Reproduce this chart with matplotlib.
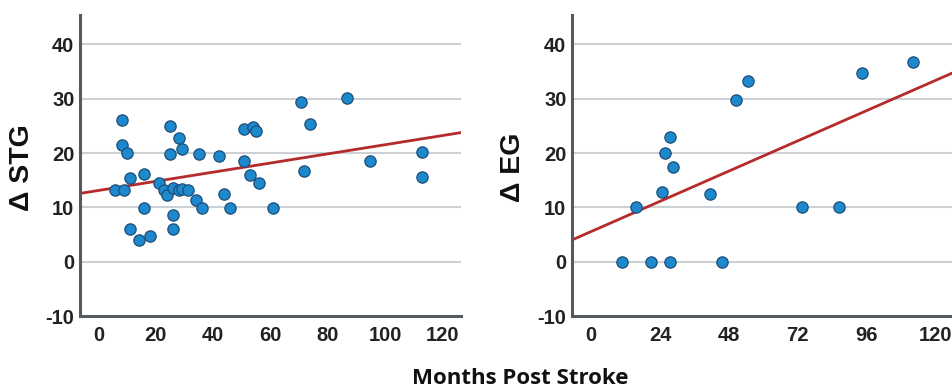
import matplotlib
matplotlib.use("Agg")
import matplotlib.pyplot as plt
import numpy as np

plt.rcParams["axes.unicode_minus"] = False

# ---- data ----
stg_months = [5.9, 8.1, 8.1, 9.1, 10.0, 11.0, 11.0, 14.1, 15.9, 15.9, 18.0, 21.0,
              22.9, 23.8, 25.0, 25.0, 25.9, 25.9, 25.9, 28.0, 29.0, 28.0, 29.0, 31.1,
              34.0, 35.1, 36.0, 41.9, 43.9, 45.9, 50.9, 50.9, 52.8, 54.0, 55.1, 55.9,
              60.9, 70.8, 71.8, 73.9, 86.8, 94.8, 112.8, 112.8]
stg_delta = [13.2, 26.0, 21.4, 13.2, 20.0, 15.4, 6.1, 4.0, 16.1, 9.9, 4.8, 14.5,
             13.2, 12.3, 25.0, 19.9, 13.5, 8.6, 6.1, 22.8, 20.7, 13.2, 13.4, 13.2,
             11.3, 19.9, 9.9, 19.4, 12.4, 9.9, 24.4, 18.6, 16.0, 24.7, 24.1, 14.4,
             9.9, 29.4, 16.6, 25.3, 30.1, 18.6, 20.1, 15.6]
stg_fit = (13.1, 0.0843)   # intercept, slope

eg_months = [10.7, 15.7, 20.7, 24.7, 25.6, 27.6, 28.6, 27.6, 41.5, 45.7, 50.6,
             54.5, 73.4, 86.4, 94.4, 112.3]
eg_delta = [0, 10, 0, 12.9, 20, 23, 17.5, 0, 12.5, 0, 29.8, 33.3, 10, 10, 34.8, 36.8]
eg_fit = (5.55, 0.2317)

stg_xticks = [0, 20, 40, 60, 80, 100, 120]
eg_xticks = [0, 24, 48, 72, 96, 120]
yticks = [-10, 0, 10, 20, 30, 40]
grid_levels = [0, 10, 20, 30, 40]

W, H = 953, 392
fig = plt.figure(figsize=(W / 100, H / 100), dpi=100)

def px_axes(x0, x1, ytop, ybot):
    return fig.add_axes([x0 / W, (H - ybot) / H, (x1 - x0) / W, (ybot - ytop) / H])

tick_font = dict(family="Liberation Sans", weight="bold", size=14.5, color="#222222")

def style(ax, xlim, xticks, xs, ys, fit):
    ax.set_xlim(*xlim)
    ax.set_ylim(-10, 45.4)
    for lv in grid_levels:
        ax.axhline(lv, color="#cdd1d6", lw=1.5, zorder=0)
    xx = np.array(xlim)
    ax.plot(xx, fit[0] + fit[1] * xx, color="#b52a2a", lw=2.0, zorder=2)
    ax.scatter(xs, ys, s=66, facecolor="#1e88cc", edgecolor="#1d4e78",
               linewidth=0.9, zorder=3, clip_on=False)
    for s in ["top", "right"]:
        ax.spines[s].set_visible(False)
    for s in ["left", "bottom"]:
        ax.spines[s].set_color("#555a5e")
        ax.spines[s].set_linewidth(2.2)
    ax.set_xticks(xticks)
    ax.set_yticks(yticks)
    ax.tick_params(length=0)
    ax.tick_params(axis="x", pad=7)
    ax.tick_params(axis="y", pad=4)
    for lab in ax.get_xticklabels() + ax.get_yticklabels():
        lab.set_fontfamily(tick_font["family"])
        lab.set_fontweight(tick_font["weight"])
        lab.set_fontsize(tick_font["size"])
        lab.set_color(tick_font["color"])
    ax.set_facecolor("white")

ax1 = px_axes(80, 461, 15, 316)
style(ax1, (-6.4, 126.4), stg_xticks, stg_months, stg_delta, stg_fit)
ax2 = px_axes(572, 952, 15, 316)
style(ax2, (-6.7, 125.8), eg_xticks, eg_months, eg_delta, eg_fit)

fig.text(22 / W, 1 - 168 / H, "Δ STG", rotation=90, ha="center", va="center",
         family="Liberation Sans", weight="bold", size=20.5, color="#111111")
fig.text(513 / W, 1 - 167 / H, "Δ EG", rotation=90, ha="center", va="center",
         family="Liberation Sans", weight="bold", size=20.5, color="#111111")
fig.text(520 / W, 1 - 378 / H, "Months Post Stroke", ha="center", va="center",
         family="Open Sans", weight="bold", size=16, color="#111111")

fig.savefig("out.png", dpi=100)
